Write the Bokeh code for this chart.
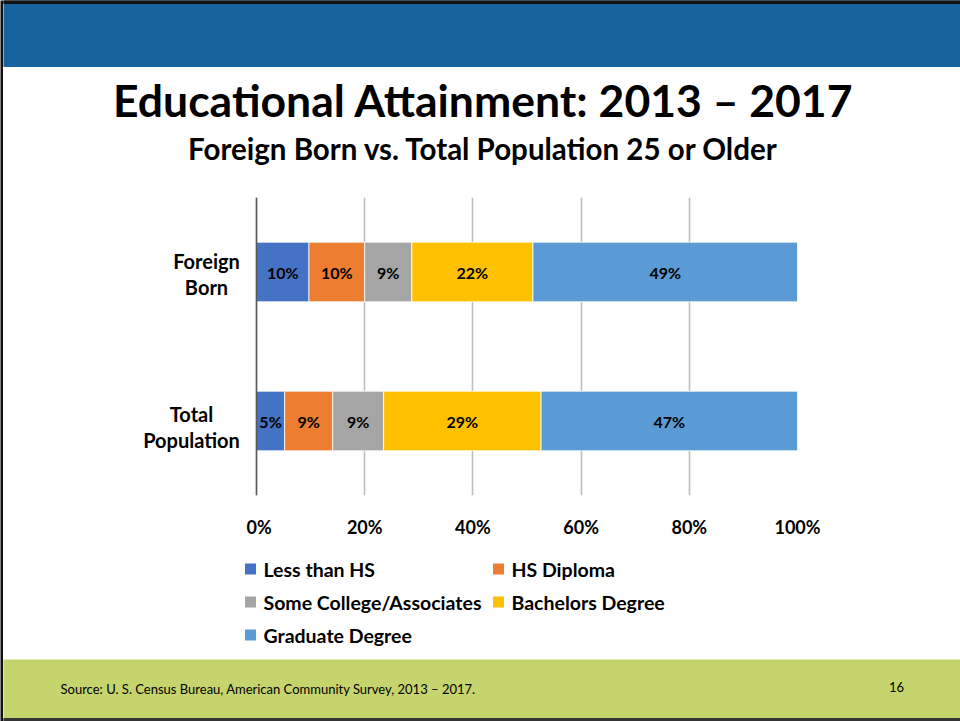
from bokeh.plotting import figure
from bokeh.models import (Range1d, FactorRange, FixedTicker, ColumnDataSource, CustomJSTickFormatter, Span)
from bokeh.layouts import column, row
from bokeh.embed import file_html
from bokeh.resources import INLINE
from bokeh.core.properties import value

# ---------------- data ----------------
groups = ["Total Population", "Foreign Born"]          # bottom -> top
group_labels = ["Total\nPopulation", "Foreign\nBorn"]
series = ["Less than HS", "HS Diploma", "Some College/Associates", "Bachelors Degree", "Graduate Degree"]
less_than_hs = [5.2, 9.7]
hs_diploma = [8.9, 10.3]
some_college = [9.4, 8.7]
bachelors = [29.1, 22.4]
graduate = [47.4, 48.9]
colors = ["#4472C4", "#ED7D31", "#A5A5A5", "#FFC000", "#5B9BD5"]
x_ticks = [0, 20, 40, 60, 80, 100]

title_text = "Educational Attainment: 2013 \u2013 2017"
subtitle_text = "Foreign Born vs. Total Population 25 or Older"
source_text = "Source: U. S. Census Bureau, American Community Survey, 2013 \u2013 2017."
page_number = "16"

FONT = "Lato"
W = 957          # width right of the 3px left border


def blank_fig(w, h, fill, y_range=None, **kw):
    f = figure(width=w, height=h, x_range=Range1d(0, w),
               y_range=y_range if y_range is not None else Range1d(h, 0),
               x_axis_type=None, y_axis_type=None, toolbar_location=None,
               output_backend="svg", frame_align=False, **kw)
    f.grid.visible = False
    f.outline_line_color = None
    f.background_fill_color = fill
    f.border_fill_color = fill
    return f


# ---------------- slide border (left) ----------------
left_border = blank_fig(3, 721, "#111111", min_border=0)

# ---------------- header band ----------------
header = blank_fig(W, 67, "#1663A0", min_border=0)
header.quad(left=[0], right=[W], top=[0], bottom=[3], color="#111111")

# ---------------- titles ----------------
titles = blank_fig(W, 113, "white", min_border=0)
titles.text(x=[480], y=[32], text=[title_text], text_font=value(FONT), text_font_style="bold",
            text_font_size="44.5px", text_align="center", text_baseline="middle", text_color="#000000")
titles.text(x=[480], y=[80.5], text=[subtitle_text], text_font=value(FONT), text_font_style="bold",
            text_font_size="29.5px", text_align="center", text_baseline="middle", text_color="#000000")

# ---------------- chart ----------------
yr = FactorRange(factors=groups)
data = {"group": groups, series[0]: less_than_hs, series[1]: hs_diploma, series[2]: some_college,
        series[3]: bachelors, series[4]: graduate}
src = ColumnDataSource(data)

p = figure(width=714, height=360, y_range=yr, x_range=Range1d(-0.37, 100),
           y_axis_location=None,
           toolbar_location=None, output_backend="svg", frame_align=False,
           min_border_left=8, min_border_right=163, min_border_top=17, min_border_bottom=37)
p.outline_line_color = None
p.background_fill_color = "white"
p.border_fill_color = "white"

renderers = p.hbar_stack(series, y="group", height=0.4, color=colors, source=src,
                         line_color="white", line_width=0.8)

# data labels at segment centres
lab_x, lab_y, lab_t = [], [], []
vals = [less_than_hs, hs_diploma, some_college, bachelors, graduate]
for gi, g in enumerate(groups):
    cum = 0.0
    for s in vals:
        v = s[gi]
        lab_x.append(cum + v / 2.0)
        lab_y.append(g)
        lab_t.append(f"{round(v)}%")
        cum += v
p.text(x=lab_x, y=lab_y, text=lab_t, text_font=value(FONT), text_font_style="bold",
       text_font_size="16px", text_align="center", text_baseline="middle", text_color="#000000")

# x axis
p.xaxis.ticker = FixedTicker(ticks=x_ticks)
p.xaxis.formatter = CustomJSTickFormatter(code="return tick.toFixed(0) + '%'")
p.xaxis.axis_line_color = None
p.xaxis.major_tick_line_color = None
p.xaxis.minor_tick_line_color = None
p.xaxis.major_label_standoff = 14
p.xaxis.major_label_text_font = FONT
p.xaxis.major_label_text_font_style = "bold"
p.xaxis.major_label_text_font_size = "18px"
p.xaxis.major_label_text_color = "#000000"

# vertical category axis line at 0 %
p.add_layout(Span(location=0, dimension="height", line_color="#595959", line_width=1.5))

p.ygrid.grid_line_color = None
p.xgrid.ticker = FixedTicker(ticks=x_ticks)
p.xgrid.grid_line_color = "#BDBDBD"
p.xgrid.grid_line_width = 1.6

# ---------------- category labels (share the chart's factor range) ----------------
cats = blank_fig(243, 360, "white", y_range=yr,
                 min_border_left=0, min_border_right=0, min_border_top=17, min_border_bottom=37)
cat_x = [188, 203]      # centre of each two-line label block
cats.text(x=cat_x, y=groups, text=group_labels, text_font=value(FONT), text_font_style="bold",
          text_font_size="20px", text_align="center", text_baseline="middle", text_color="#000000",
          text_line_height=1.1)

# ---------------- legend (two columns, row-major like the original) ----------------
leg = blank_fig(W, 119, "white", min_border=0)
leg_col_x = [247, 495]
leg_row_y = [28.5, 61.5, 94.5]
sq_x, sq_y, tx_x, tx_y = [], [], [], []
for i, s in enumerate(series):
    r, c = divmod(i, 2)
    sq_x.append(leg_col_x[c])
    sq_y.append(leg_row_y[r])
    tx_x.append(leg_col_x[c] + 13)
    tx_y.append(leg_row_y[r])
leg.scatter(x=sq_x, y=sq_y, marker="square", size=11, color=colors, line_color=None)
leg.text(x=tx_x, y=tx_y, text=series, text_font=value(FONT), text_font_style="bold",
         text_font_size="19.5px", text_align="left", text_baseline="middle", text_color="#000000")

# ---------------- footer ----------------
footer = blank_fig(W, 62, "#C6D46E", min_border=0)
footer.quad(left=[0], right=[W], top=[59], bottom=[62], color="#333333")
footer.text(x=[57], y=[29], text=[source_text], text_font=value(FONT), text_font_size="13px",
            text_align="left", text_baseline="middle", text_color="#000000")
footer.text(x=[893], y=[27], text=[page_number], text_font=value(FONT), text_font_size="13px",
            text_align="center", text_baseline="middle", text_color="#000000")

body = column(header, titles, row(cats, p, spacing=0), leg, footer, spacing=0)
layout = row(left_border, body, spacing=0)
open("out.html", "w").write(file_html(layout, INLINE))
